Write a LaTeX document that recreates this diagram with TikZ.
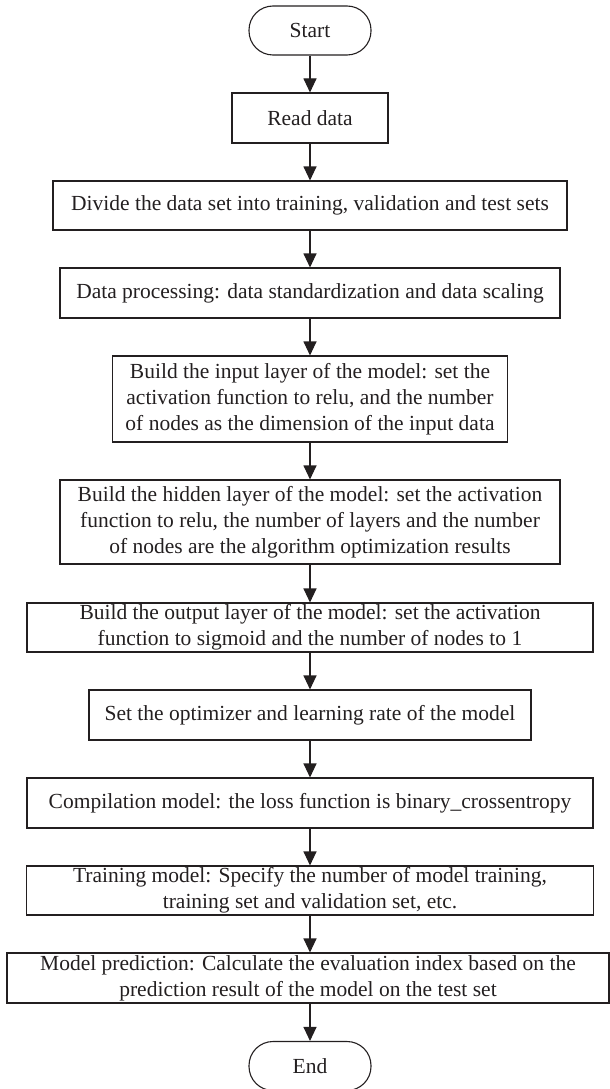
\documentclass[tikz,border=0pt]{standalone}
\usepackage{fontspec}
\setmainfont{Liberation Serif}
\usetikzlibrary{arrows.meta}
\definecolor{ink}{HTML}{231F20}
\begin{document}
\begin{tikzpicture}[x=1pt,y=-1pt,
  every node/.style={font=\fontsize{21.5}{26}\selectfont, text=ink},
  stepbox/.style={draw=ink, line width=1.1pt, rectangle, align=center, inner sep=0pt},
  terminal/.style={draw=ink, line width=1.1pt, rectangle, rounded corners=24pt, inner sep=0pt,
    minimum width=122pt, minimum height=49pt},
  arr/.style={draw=ink, line width=1.1pt, -{Triangle[width=13pt,length=14pt]}}
]
\clip (0,0) rectangle (610,1089);

\node[terminal] (start) at (310,30.5) {Start};
\node[stepbox, minimum width=156pt, minimum height=50pt] (read) at (310,118) {Read data};
\node[stepbox, minimum width=514pt, minimum height=49pt] (divide) at (310,205.5)
  {Divide the data set into training, validation and test sets};
\node[stepbox, minimum width=500pt, minimum height=50pt] (proc) at (310,293)
  {Data processing: data standardization and data scaling};
\node[stepbox, minimum width=395pt, minimum height=86pt] (input) at (310,399)
  {Build the input layer of the model: set the\\activation function to relu, and the number\\of nodes as the dimension of the input data};
\node[stepbox, minimum width=500pt, minimum height=84pt] (hidden) at (310,522)
  {Build the hidden layer of the model: set the activation\\function to relu, the number of layers and the number\\of nodes are the algorithm optimization results};
\node[stepbox, minimum width=566pt, minimum height=49pt] (output) at (310,627.5)
  {Build the output layer of the model: set the activation\\function to sigmoid and the number of nodes to 1};
\node[stepbox, minimum width=442pt, minimum height=50pt] (opt) at (310,715)
  {Set the optimizer and learning rate of the model};
\node[stepbox, minimum width=566pt, minimum height=50pt] (comp) at (310,803)
  {Compilation model: the loss function is binary\_crossentropy};
\node[stepbox, minimum width=567pt, minimum height=49pt] (train) at (310,890.5)
  {Training model: Specify the number of model training,\\training set and validation set, etc.};
\node[stepbox, minimum width=602pt, minimum height=50pt] (pred) at (308,978)
  {Model prediction: Calculate the evaluation index based on the\\prediction result of the model on the test set};
\node[terminal] (end) at (310,1066) {End};

% vertical flow connectors, each dropping straight down from the box above
\foreach \a/\b in {start/read, read/divide, divide/proc, proc/input, input/hidden,
                   hidden/output, output/opt, opt/comp, comp/train, train/pred}
  \draw[arr] (\a.south) -- (\a.south |- \b.north);
% the last box sits slightly off-centre, so keep its outgoing arrow on the main axis
\draw[arr] (pred.south -| end.north) -- (end.north);
\end{tikzpicture}
\end{document}
